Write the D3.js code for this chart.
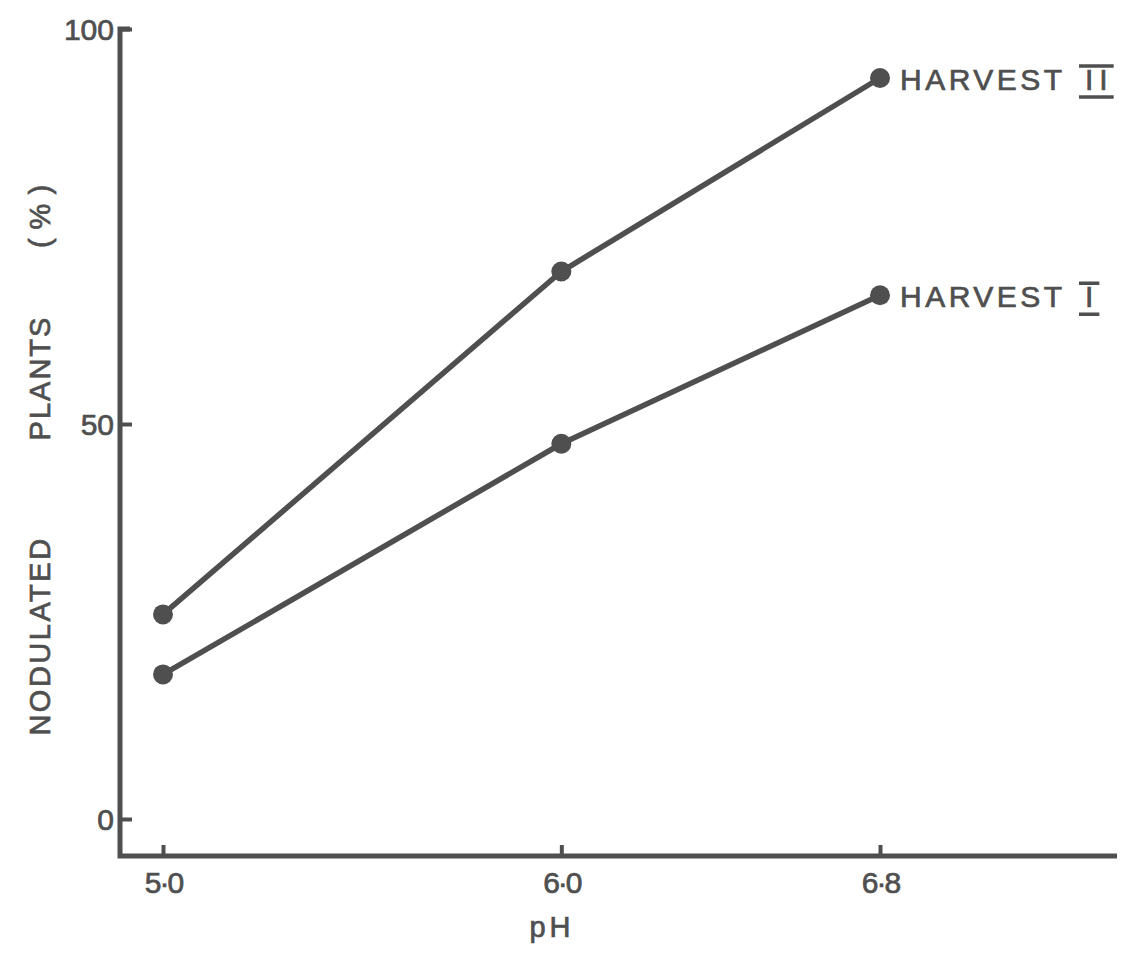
<!DOCTYPE html>
<html>
<head>
<meta charset="utf-8">
<script src="https://cdn.jsdelivr.net/npm/d3@7"></script>
<style>
  html, body { margin: 0; padding: 0; background: #fff; }
  svg { display: block; }
  text { font-family: "Liberation Sans", Arial, sans-serif; fill: #4f4f4f; stroke: #4f4f4f; stroke-width: 0.7px; }
</style>
</head>
<body>
<svg id="chart" width="1128" height="956"></svg>
<script>
// pH levels tested
const phLevels = [5.0, 6.0, 6.8];
// Percentage of nodulated plants at each pH
const harvest1 = [18.3, 47.5, 66.3];
const harvest2 = [25.9, 69.3, 93.8];
const seriesNames = ["HARVEST", "HARVEST"];
const seriesNumerals = ["I", "II"];
// Axis tick labels
const xTickLabels = ["5·0", "6·0", "6·8"];
const yTicks = [0, 50, 100];
// Y axis title, one word per entry
const yTitleWords = ["NODULATED", "PLANTS", "(%)"];

const ink = "#4f4f4f";
const svg = d3.select("#chart");

const x = d3.scaleLinear().domain([5.0, 6.8]).range([163, 880]);
const y = d3.scaleLinear().domain([0, 100]).range([819, 29]);

const axisX0 = 120, axisY0 = 856, axisXEnd = 1117;

// Frame: left axis from top tick down to corner, bottom axis to the right
svg.append("path")
  .attr("d", `M${axisX0 + 10},${y(100)} L${axisX0},${y(100)} L${axisX0},${axisY0} L${axisXEnd},${axisY0}`)
  .attr("fill", "none").attr("stroke", ink).attr("stroke-width", 5)
  .attr("stroke-linejoin", "miter");

// Y ticks (pointing inward) and labels
const yAxis = d3.axisRight(y).tickValues(yTicks).tickSize(12).tickFormat(d => d);
const gy = svg.append("g").attr("transform", `translate(${axisX0},0)`).call(yAxis);
gy.select(".domain").remove();
gy.selectAll(".tick line").attr("stroke", ink).attr("stroke-width", 4);
gy.selectAll(".tick text")
  .attr("x", -6).attr("dy", "0.36em")
  .attr("text-anchor", "end")
  .style("font-size", "30px").attr("fill", ink);

// X ticks (pointing upward) and labels
const xAxis = d3.axisTop(x).tickValues(phLevels).tickSize(11)
  .tickFormat((d, i) => xTickLabels[i]);
const gx = svg.append("g").attr("transform", `translate(0,${axisY0})`).call(xAxis);
gx.select(".domain").remove();
gx.selectAll(".tick line").attr("stroke", ink).attr("stroke-width", 4);
gx.selectAll(".tick text")
  .attr("y", 37).attr("dy", 0)
  .attr("text-anchor", "middle")
  .style("font-size", "30px")
  .style("letter-spacing", "-2px")
  .attr("fill", ink);

// Axis titles
svg.append("text")
  .attr("x", 552).attr("y", 937)
  .attr("text-anchor", "middle")
  .style("font-size", "29px")
  .style("letter-spacing", "4px")
  .text("pH");

const titleCenters = [636, 378, 212];
const titleSpacing = ["2.5px", "2px", "9px"];
yTitleWords.forEach((w, i) => {
  svg.append("text")
    .attr("transform", `translate(50,${titleCenters[i]}) rotate(-90)`)
    .attr("text-anchor", "middle")
    .style("font-size", "29px")
    .style("letter-spacing", titleSpacing[i])
    .text(w);
});

// Series lines and markers
const series = [harvest1, harvest2];
const line = d3.line().x((d, i) => x(phLevels[i])).y(d => y(d));

series.forEach((vals, s) => {
  svg.append("path")
    .attr("d", line(vals))
    .attr("fill", "none").attr("stroke", ink).attr("stroke-width", 5.5)
    .attr("stroke-linejoin", "round");
  svg.selectAll(null).data(vals).enter().append("circle")
    .attr("cx", (d, i) => x(phLevels[i]))
    .attr("cy", d => y(d))
    .attr("r", 10)
    .attr("fill", ink);

  // End label with over/underlined Roman numeral
  const last = vals[vals.length - 1];
  const lx = x(phLevels[phLevels.length - 1]) + 20;
  const ly = y(last) + 12;
  svg.append("text")
    .attr("x", lx).attr("y", ly)
    .style("font-size", "30px")
    .style("letter-spacing", "3.5px")
    .text(seriesNames[s]);
  const numX = s === 1 ? 1085 : 1085;
  const num = svg.append("text")
    .attr("x", numX).attr("y", ly)
    .style("font-size", "30px")
    .style("letter-spacing", s === 1 ? "6px" : "0px")
    .text(seriesNumerals[s]);
  const nb = num.node().getBBox();
  const w = nb.width - (s === 1 ? 6 : 0);
  [ly - 24, ly + 7].forEach(yy => {
    svg.append("line")
      .attr("x1", nb.x - 6).attr("x2", nb.x + w + 6)
      .attr("y1", yy).attr("y2", yy)
      .attr("stroke", ink).attr("stroke-width", 3.5);
  });
});
</script>
</body>
</html>
